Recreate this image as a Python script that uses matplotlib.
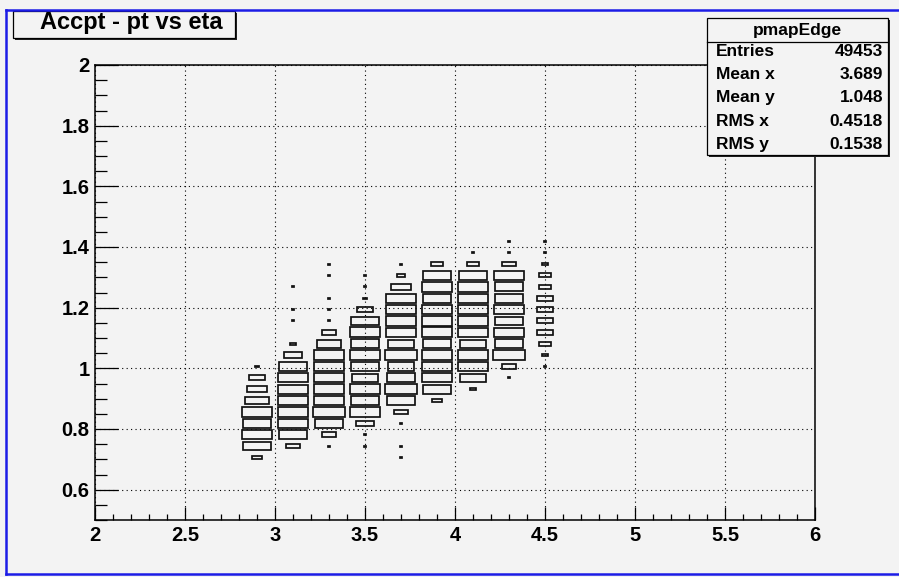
import numpy as np
import matplotlib.pyplot as plt
from matplotlib.patches import Rectangle
from matplotlib.lines import Line2D
from matplotlib.ticker import MultipleLocator, FormatStrFormatter

plt.rcParams['font.family'] = ['Liberation Sans', 'DejaVu Sans']
plt.rcParams['font.weight'] = 'bold'

# TH2 binning: eta 20 bins in [2, 6], pt 40 bins in [0.5, 2]
eta_lo, eta_hi, n_eta = 2.0, 6.0, 20
pt_lo, pt_hi, n_pt = 0.5, 2.0, 40

# eta bin centres that have entries
eta_cols = [2.9, 3.1, 3.3, 3.5, 3.7, 3.9, 4.1, 4.3, 4.5]
# index of the lowest filled pt bin in each column
first_bin = [5, 6, 6, 6, 5, 10, 11, 12, 13]

# relative box side per pt bin (going up from first_bin), 0 = empty
D = 0.08  # cells with a couple of entries -> drawn as dots
sizes_29 = [0.26, 0.78, 0.81, 0.78, 0.85, 0.65, 0.54, 0.43, 0.11]
sizes_31 = [0.39, 0.78, 0.81, 0.83, 0.81, 0.81, 0.81, 0.78, 0.48, 0.17, 0, D, D, 0, D]
sizes_33 = [D, 0.39, 0.78, 0.91, 0.81, 0.85, 0.81, 0.81, 0.81, 0.69, 0.41, D, D, D, 0, D, D]
sizes_35 = [D, D, 0.48, 0.83, 0.78, 0.85, 0.72, 0.78, 0.85, 0.78, 0.85, 0.78, 0.43, 0.1, D, D]
sizes_37 = [D, D, 0, D, 0.39, 0.80, 0.89, 0.80, 0.74, 0.91, 0.72, 0.83, 0.81, 0.83, 0.81, 0.56, 0.2, D]
sizes_39 = [0.26, 0.78, 0.81, 0.81, 0.85, 0.78, 0.85, 0.81, 0.85, 0.80, 0.83, 0.76, 0.35]
sizes_41 = [0.15, 0.70, 0.81, 0.85, 0.72, 0.83, 0.81, 0.83, 0.81, 0.85, 0.78, 0.31, D]
sizes_43 = [D, 0.39, 0.91, 0.78, 0.81, 0.78, 0.81, 0.78, 0.78, 0.81, 0.39, D, D]
sizes_45 = [D, 0.19, 0.35, 0.43, 0.43, 0.43, 0.43, 0.35, 0.35, 0.19, D, D]
box_sizes = [sizes_29, sizes_31, sizes_33, sizes_35, sizes_37,
             sizes_39, sizes_41, sizes_43, sizes_45]

# stats box
stat_name = 'pmapEdge'
stat_labels = ['Entries', 'Mean x', 'Mean y', 'RMS x', 'RMS y']
stat_values = ['49453', '3.689', '1.048', '0.4518', '0.1538']

title = 'Accpt - pt vs eta'

W, H = 899, 577
bg = '#f3f3f3'


def fx(x):
    return x / W


def fy(y):
    return 1 - y / H


fig = plt.figure(figsize=(W / 100, H / 100), dpi=100, facecolor=bg)
ax = fig.add_axes([fx(95), fy(520), fx(815) - fx(95), fy(65) - fy(520)])
ax.set_facecolor(bg)

dx = (eta_hi - eta_lo) / n_eta
dy = (pt_hi - pt_lo) / n_pt
for xc, k0, col in zip(eta_cols, first_bin, box_sizes):
    for i, s in enumerate(col):
        if s <= 0:
            continue
        yc = pt_lo + (k0 + i + 0.5) * dy
        w, h = s * dx, s * dy
        ax.add_patch(Rectangle((xc - w / 2, yc - h / 2), w, h, fill=(s == D),
                               fc='black', ec='#111111', lw=1.25, zorder=3))

ax.set_xlim(eta_lo, eta_hi)
ax.set_ylim(pt_lo, pt_hi)
ax.set_xticks(np.arange(2, 6.01, 0.5))
ax.set_yticks(np.arange(0.6, 2.01, 0.2))
ax.xaxis.set_minor_locator(MultipleLocator(0.1))
ax.yaxis.set_minor_locator(MultipleLocator(0.05))
ax.xaxis.set_major_formatter(FormatStrFormatter('%g'))
ax.yaxis.set_major_formatter(FormatStrFormatter('%g'))
ax.tick_params(axis='x', which='major', direction='in', length=9.5, width=0.9, pad=4, labelsize=14.5)
ax.tick_params(axis='x', which='minor', direction='in', length=4.5, width=0.9)
ax.tick_params(axis='y', which='major', direction='in', length=16.5, width=0.9, pad=4, labelsize=14.5)
ax.tick_params(axis='y', which='minor', direction='in', length=8.5, width=0.9)
ax.grid(True, which='major', color='black', lw=0.8, ls=(0, (1, 3)))
for sp in ax.spines.values():
    sp.set_linewidth(1.1)

# title box with shadow
fig.add_artist(Rectangle((fx(15), fy(40)), fx(235) - fx(13), fy(11) - fy(38),
                         transform=fig.transFigure, fc='#222222', ec='none', zorder=5))
fig.add_artist(Rectangle((fx(13), fy(38)), fx(235) - fx(13), fy(11) - fy(38),
                         transform=fig.transFigure, fc=bg, ec='black', lw=0.9, zorder=6))
fig.text(fx(131), fy(23), title, ha='center', va='center', fontsize=17, zorder=7)

# stats box with shadow
fig.add_artist(Rectangle((fx(709), fy(157)), fx(888) - fx(707), fy(18) - fy(155),
                         transform=fig.transFigure, fc='#222222', ec='none', zorder=5))
fig.add_artist(Rectangle((fx(707), fy(155)), fx(888) - fx(707), fy(18) - fy(155),
                         transform=fig.transFigure, fc=bg, ec='black', lw=0.9, zorder=6))
fig.add_artist(Line2D([fx(707), fx(888)], [fy(41.5), fy(41.5)], transform=fig.transFigure,
                      color='black', lw=0.9, zorder=7))
fig.text(fx(797), fy(30), stat_name, ha='center', va='center', fontsize=12.5, zorder=7)
for i, (lab, val) in enumerate(zip(stat_labels, stat_values)):
    yy = fy(51.5 + i * 23.2)
    fig.text(fx(716), yy, lab, ha='left', va='center', fontsize=12.5, zorder=7)
    fig.text(fx(883), yy, val, ha='right', va='center', fontsize=12.5, zorder=7)

# blue pad border
blue = '#1c1ce6'
fig.add_artist(Line2D([fx(6), fx(6)], [fy(10), fy(574)], transform=fig.transFigure, color=blue, lw=1.8, zorder=8))
fig.add_artist(Line2D([fx(6), 1], [fy(10), fy(10)], transform=fig.transFigure, color=blue, lw=1.8, zorder=8))
fig.add_artist(Line2D([fx(6), 1], [fy(574), fy(574)], transform=fig.transFigure, color=blue, lw=1.8, zorder=8))

fig.savefig('out.png', dpi=100, facecolor=bg)
